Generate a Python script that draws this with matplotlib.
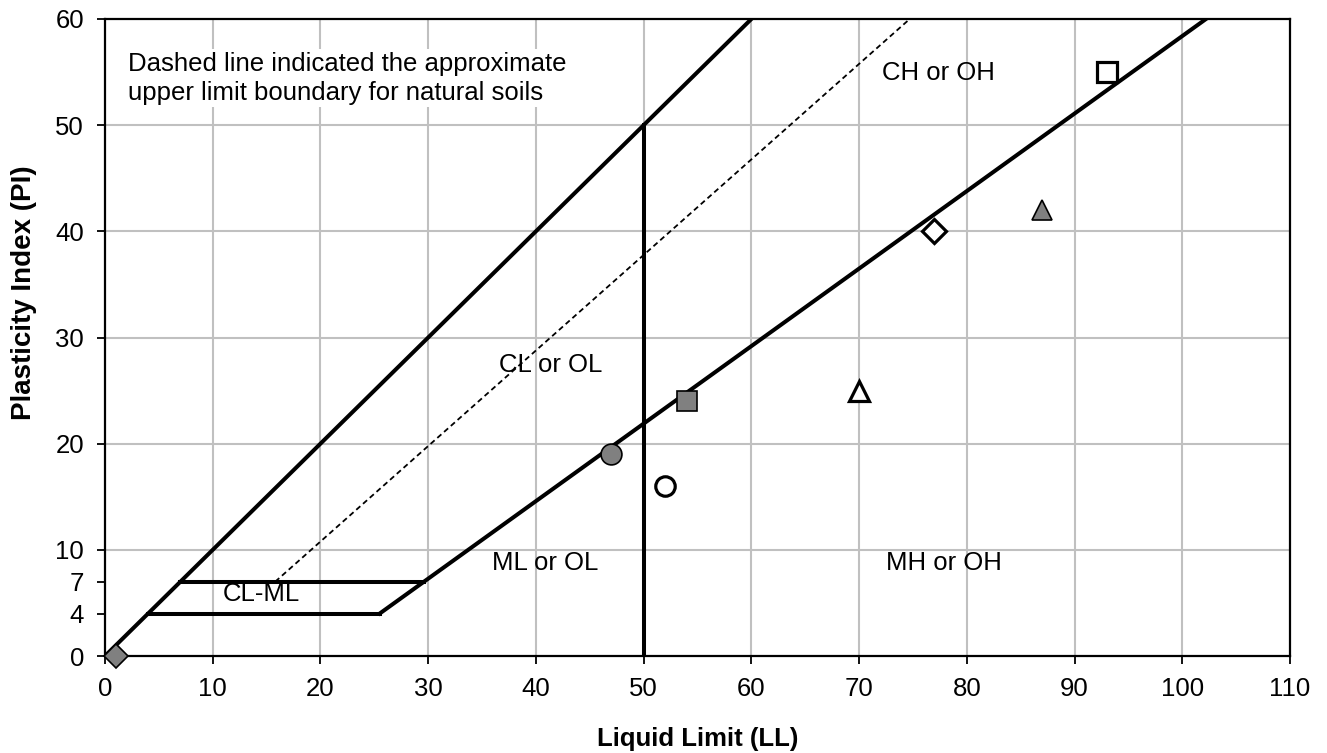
import matplotlib.pyplot as plt
import numpy as np

plt.rcParams['font.family'] = ['Liberation Sans', 'DejaVu Sans']

# sample points (LL, PI)
ll = [1, 47, 52, 54, 70, 77, 87, 93]
pi = [0, 19, 16, 24, 25, 40, 42, 55]
markers = ['D', 'o', 'o', 's', '^', 'D', '^', 's']
fills = ['gray', 'gray', 'white', 'gray', 'white', 'white', 'gray', 'white']
sizes = [12, 15, 14, 15, 14, 12, 14, 14]

# chart boundary lines
upper_ll = [0, 60]
upper_pi = [0, 60]
uline_ll = [15.8, 74.7]
uline_pi = [7, 60]
aline_ll = [25.5, 102.2]
aline_pi = [4, 60]
clml_top_ll = [7, 29.6]
clml_bot_ll = [4, 25.5]

x_ticks = np.arange(0, 111, 10)
y_ticks = [0, 4, 7, 10, 20, 30, 40, 50, 60]

fig = plt.figure(figsize=(13.27, 7.53), dpi=100)
ax = fig.add_axes([105 / 1327, 97 / 753, 1185 / 1327, 637 / 753])
ax.set_xlim(0, 110)
ax.set_ylim(0, 60)

for gx in range(10, 110, 10):
    ax.axvline(gx, color='#c0c0c0', lw=1.5, zorder=0)
for gy in range(10, 60, 10):
    ax.axhline(gy, color='#c0c0c0', lw=1.5, zorder=0)

lw = 2.9
ax.plot(upper_ll, upper_pi, color='black', lw=lw, zorder=2)
ax.plot(uline_ll, uline_pi, color='black', lw=1.3, ls=(0, (3, 2)), zorder=2)
ax.plot(aline_ll, aline_pi, color='black', lw=lw, zorder=2)
ax.plot(clml_top_ll, [7, 7], color='black', lw=lw, zorder=2)
ax.plot(clml_bot_ll, [4, 4], color='black', lw=lw, zorder=2)
ax.plot([50, 50], [0, 50], color='black', lw=lw, zorder=2)

for x, y, m, f, s in zip(ll, pi, markers, fills, sizes):
    ax.plot(x, y, marker=m, markersize=s, markerfacecolor=f,
            markeredgecolor='black', markeredgewidth=2.3 if f == 'white' else 1.2,
            ls='none', zorder=5, clip_on=False)

ts = 18.5
ax.text(77.4, 54.9, 'CH or OH', fontsize=ts, ha='center', va='center')
ax.text(41.4, 27.4, 'CL or OL', fontsize=ts, ha='center', va='center')
ax.text(40.9, 8.8, 'ML or OL', fontsize=ts, ha='center', va='center')
ax.text(77.9, 8.8, 'MH or OH', fontsize=ts, ha='center', va='center')
ax.text(14.5, 5.8, 'CL-ML', fontsize=ts, ha='center', va='center')
ax.text(2.1, 56.9, 'Dashed line indicated the approximate\nupper limit boundary for natural soils',
        fontsize=ts, ha='left', va='top', linespacing=1.25,
        bbox=dict(facecolor='white', edgecolor='none', pad=2), zorder=3)

ax.set_xticks(x_ticks)
ax.set_yticks(y_ticks)
ax.tick_params(labelsize=ts, direction='out', length=6, width=1.3, pad=9)
for sp in ax.spines.values():
    sp.set_linewidth(1.6)

ax.set_xlabel('Liquid Limit (LL)', fontsize=ts, fontweight='bold', labelpad=19)
ax.set_ylabel('Plasticity Index (PI)', fontsize=20, fontweight='bold', labelpad=13, y=0.57)

fig.savefig('out.png', dpi=100)
